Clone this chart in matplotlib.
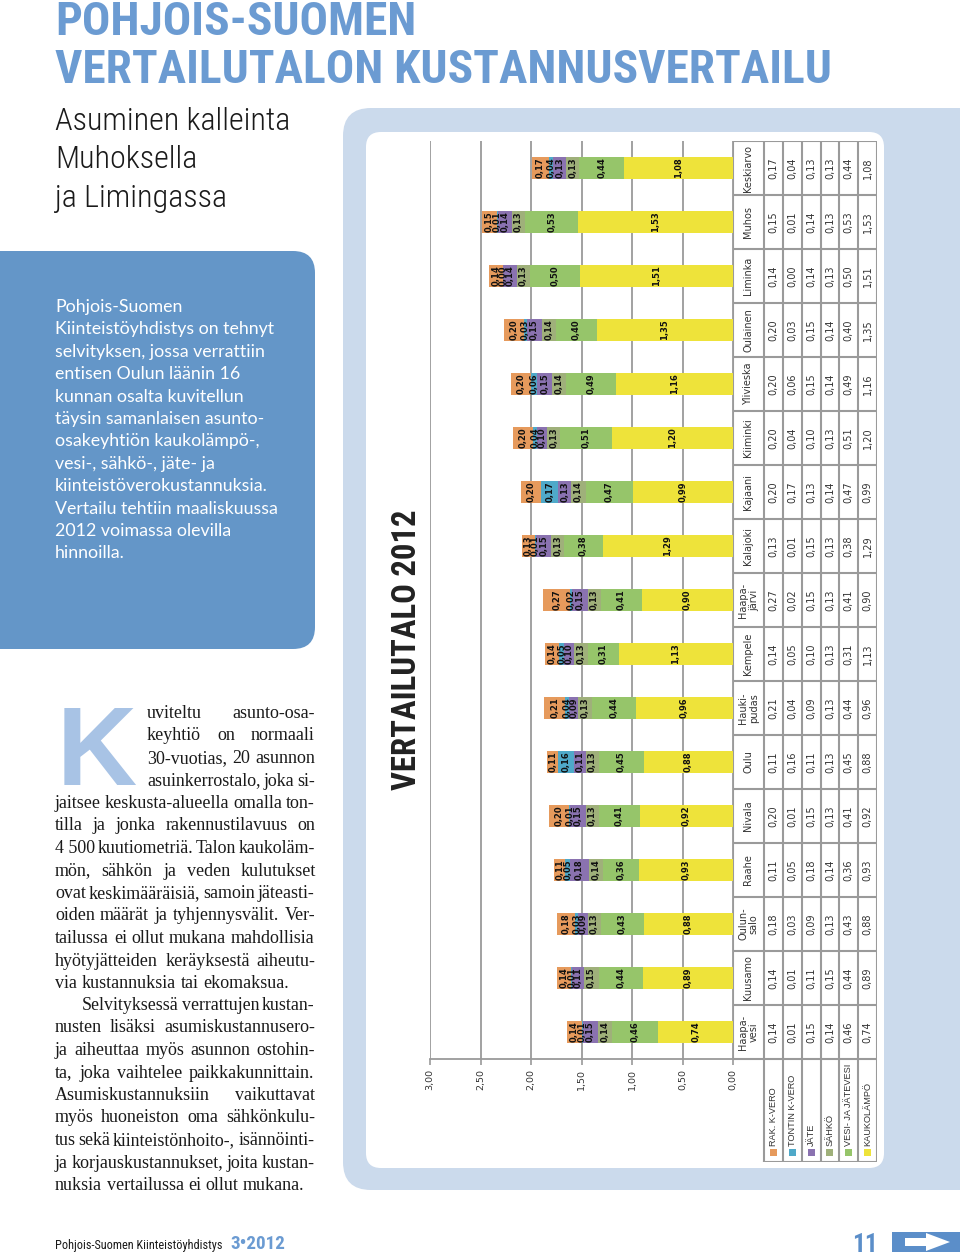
import numpy as np
import matplotlib
matplotlib.use("Agg")
import matplotlib.pyplot as plt
from matplotlib.patches import FancyBboxPatch, Rectangle, Polygon
from matplotlib.font_manager import FontProperties

# chart data, values per municipality
kunnat = ["Haapa-\nvesi", "Kuusamo", "Oulun-\nsalo", "Raahe", "Nivala", "Oulu",
          "Hauki-\npudas", "Kempele", "Haapa-\njärvi", "Kalajoki", "Kajaani",
          "Kiiminki", "Ylivieska", "Oulainen", "Liminka", "Muhos", "Keskiarvo"]
kaukolampo = [0.74, 0.89, 0.88, 0.93, 0.92, 0.88, 0.96, 1.13, 0.90, 1.29, 0.99, 1.20, 1.16, 1.35, 1.51, 1.53, 1.08]
vesi = [0.46, 0.44, 0.43, 0.36, 0.41, 0.45, 0.44, 0.31, 0.41, 0.38, 0.47, 0.51, 0.49, 0.40, 0.50, 0.53, 0.44]
sahko = [0.14, 0.15, 0.13, 0.14, 0.13, 0.13, 0.13, 0.13, 0.13, 0.13, 0.14, 0.13, 0.14, 0.14, 0.13, 0.13, 0.13]
jate = [0.15, 0.11, 0.09, 0.18, 0.15, 0.11, 0.09, 0.10, 0.15, 0.15, 0.13, 0.10, 0.15, 0.15, 0.14, 0.14, 0.13]
tontin_vero = [0.01, 0.01, 0.03, 0.05, 0.01, 0.16, 0.04, 0.05, 0.02, 0.01, 0.17, 0.04, 0.06, 0.03, 0.00, 0.01, 0.04]
rak_vero = [0.14, 0.14, 0.18, 0.11, 0.20, 0.11, 0.21, 0.14, 0.27, 0.13, 0.20, 0.20, 0.20, 0.20, 0.14, 0.15, 0.17]

sarjat = ["RAK. K-VERO", "TONTIN K-VERO", "JÄTE", "SÄHKÖ", "VESI- JA JÄTEVESI", "KAUKOLÄMPÖ"]
arvot = [rak_vero, tontin_vero, jate, sahko, vesi, kaukolampo]
varit = ["#e69a5c", "#4fa9c9", "#8a72b0", "#9fb07a", "#96c56a", "#eee33a"]
asteikko = [0.0, 0.5, 1.0, 1.5, 2.0, 2.5, 3.0]

otsikko = ["POHJOIS-SUOMEN", "VERTAILUTALON KUSTANNUSVERTAILU"]
alaotsikko = ["Asuminen kalleinta", "Muhoksella", "ja Limingassa"]
ingressi = ["Pohjois-Suomen", "Kiinteistöyhdistys on tehnyt", "selvityksen, jossa verrattiin",
            "entisen Oulun läänin 16", "kunnan osalta kuvitellun", "täysin samanlaisen asunto-",
            "osakeyhtiön kaukolämpö-,", "vesi-, sähkö-, jäte- ja", "kiinteistöverokustannuksia.",
            "Vertailu tehtiin maaliskuussa", "2012 voimassa olevilla", "hinnoilla."]
leipa1 = ["uviteltu asunto-osa-", "keyhtiö on normaali", "30-vuotias, 20 asunnon",
          "asuinkerrostalo, joka si-", "jaitsee keskusta-alueella omalla ton-",
          "tilla ja jonka rakennustilavuus on", "4\u00a0500 kuutiometriä. Talon kaukoläm-",
          "mön, sähkön ja veden kulutukset", "ovat keskimääräisiä, samoin jäteasti-",
          "oiden määrät ja tyhjennysvälit. Ver-", "tailussa ei ollut mukana mahdollisia",
          "hyötyjätteiden keräyksestä aiheutu-", "via kustannuksia tai ekomaksua."]
leipa2 = ["Selvityksessä verrattujen kustan-", "nusten lisäksi asumiskustannusero-",
          "ja aiheuttaa myös asunnon ostohin-", "ta, joka vaihtelee paikkakunnittain.",
          "Asumiskustannuksiin vaikuttavat", "myös huoneiston oma sähkönkulu-",
          "tus sekä kiinteistönhoito-, isännöinti-", "ja korjauskustannukset, joita kustan-",
          "nuksia vertailussa ei ollut mukana."]

sininen = "#6b9bd2"
kapea = ["Roboto Condensed", "Liberation Sans Narrow", "DejaVu Sans"]
fig = plt.figure(figsize=(9.6, 12.58), dpi=100)
r = fig.canvas.get_renderer()

# page axes in pixel coordinates
page = fig.add_axes([0, 0, 1, 1])
page.set_xlim(0, 960)
page.set_ylim(1258, 0)
page.axis("off")


def leveys(s, fp):
    w, h, d = r.get_text_width_height_descent(s, fp, ismath=False)
    return w


def sovita(s, family, weight, target):
    fp = FontProperties(family=family, weight=weight, size=10)
    return 10 * target / leveys(s, fp)


# background panels
page.add_patch(FancyBboxPatch((-40, 251), 355, 398, boxstyle="round,pad=0,rounding_size=22",
                              fc="#6496c8", ec="none"))
page.add_patch(FancyBboxPatch((343, 108), 700, 1082, boxstyle="round,pad=0,rounding_size=28",
                              fc="#cbdaec", ec="none"))
page.add_patch(FancyBboxPatch((366, 132), 518, 1036, boxstyle="round,pad=0,rounding_size=15",
                              fc="white", ec="none"))

# title
fs = sovita(otsikko[1], kapea, "bold", 773)
page.text(55, 35, otsikko[0], fontsize=fs, family=kapea, weight="bold",
          color=sininen, va="baseline")
page.text(55, 83, otsikko[1], fontsize=fs, family=kapea, weight="bold",
          color=sininen, va="baseline")

fs = sovita(alaotsikko[0], kapea, "light", 236)
for i, s in enumerate(alaotsikko):
    page.text(55, 130 + i * 38.5, s, fontsize=fs, family=kapea, weight="light",
              color="#1a1a1a", va="baseline")

fs = sovita(ingressi[9], "Lato", "normal", 223)
for i, s in enumerate(ingressi):
    page.text(55, 312 + i * 22.4, s, fontsize=fs, family="Lato",
              color="white", va="baseline")

# drop cap
page.text(57, 785, "K", fontsize=80, family="Liberation Sans", weight="bold",
          color="#a8c3e5", va="baseline")

# justified body text
fp10 = FontProperties(family="Liberation Serif", size=10)
vali10 = leveys("a a", fp10) - leveys("aa", fp10)
rivit = []
for i, s in enumerate(leipa1):
    rivit.append((s, 147 if i < 4 else 55, 718 + i * 22.5, i < len(leipa1) - 1))
for i, s in enumerate(leipa2):
    rivit.append((s, 82 if i == 0 else 55, 1010 + i * 22.5, i < len(leipa2) - 1))

suhteet = []
for s, x0, yy, tasaa in rivit:
    sanat = s.split(" ")
    luonn = sum(leveys(w, fp10) for w in sanat) + (len(sanat) - 1) * vali10
    if tasaa:
        suhteet.append((315 - x0) / luonn)
fs_body = 10 * np.percentile(suhteet, 35)

for s, x0, yy, tasaa in rivit:
    sanat = s.split(" ")
    ws10 = [leveys(w, fp10) for w in sanat]
    n = len(sanat) - 1
    koko = fs_body
    tarve = (sum(ws10) + n * 0.6 * vali10) * koko / 10
    if tasaa and tarve > 315 - x0:
        koko = koko * (315 - x0) / tarve
    fp = FontProperties(family="Liberation Serif", size=koko)
    ws = [w * koko / 10 for w in ws10]
    if tasaa and n > 0:
        vali = (315 - x0 - sum(ws)) / n
    else:
        vali = vali10 * koko / 10
    x = x0
    for w, wl in zip(sanat, ws):
        page.text(x, yy, w, fontproperties=fp, color="#1a1a1a", va="baseline")
        x += wl + vali

# footer
fs = sovita("Pohjois-Suomen Kiinteistöyhdistys", kapea, "normal", 167)
page.text(55, 1249, "Pohjois-Suomen Kiinteistöyhdistys", fontsize=fs,
          family=kapea, color="#1a1a1a", va="baseline")
fs = sovita("3•2012", kapea, "bold", 55)
page.text(230, 1249, "3•2012", fontsize=fs, family=kapea, weight="bold",
          color=sininen, va="baseline")
fs = sovita("11", kapea, "bold", 26)
page.text(852, 1252, "11", fontsize=fs, family=kapea, weight="bold",
          color="#5b8ec9", va="baseline")
page.add_patch(Rectangle((892, 1232), 80, 20, fc="#5b8ec9", ec="none"))
page.add_patch(Polygon([[905, 1238], [926, 1238], [926, 1233], [950, 1242], [926, 1251],
                        [926, 1246], [905, 1246]], closed=True, fc="white", ec="none"))

# rotated chart title
fs = sovita("VERTAILUTALO 2012", kapea, "bold", 280)
page.text(407, 650, "VERTAILUTALO 2012", fontsize=fs, family=kapea,
          weight="bold", rotation=90, ha="center", va="center", color="#222222")

# chart axes
W, H = 960, 1258
ax = fig.add_axes([430 / W, 1 - 1059 / H, 303 / W, 918 / H])
y = np.arange(len(kunnat))
pohja = np.zeros(len(kunnat))
for nimi, vals, c in reversed(list(zip(sarjat, arvot, varit))):
    vals = np.array(vals)
    ax.barh(y, vals, left=pohja, height=0.39, color=c, zorder=3)
    for yi, (b, v) in enumerate(zip(pohja, vals)):
        ax.text(b + v / 2, yi, f"{v:.2f}".replace(".", ","), rotation=90, ha="center",
                va="center", fontsize=6, weight="bold", color="#111111", zorder=4)
    pohja = pohja + vals
ax.set_xlim(3, 0)
ax.set_ylim(-0.5, len(kunnat) - 0.5)
ax.set_xticks(asteikko)
ax.set_xticklabels([f"{t:.2f}".replace(".", ",") for t in asteikko], rotation=90,
                   fontsize=6.8, color="#333333")
ax.tick_params(axis="x", length=4, color="#9a9a9a", width=1.2, pad=3)
ax.set_yticks([])
ax.grid(axis="x", color="#9a9a9a", linewidth=1.3, zorder=0)
for sp in ["top", "left", "right"]:
    ax.spines[sp].set_visible(False)
ax.spines["bottom"].set_color("#9a9a9a")
ax.spines["bottom"].set_linewidth(1.3)
ax.patch.set_alpha(0)

# data table next to the chart
leg_h = 103 / 54
tb = fig.add_axes([733 / W, 1 - 1162 / H, 144 / W, 1021 / H])
tb.set_xlim(0, 144)
tb.set_ylim(-0.5 - leg_h, len(kunnat) - 0.5)
tb.axis("off")
cw = (144 - 31) / 6
viiva = dict(color="#9a9a9a", linewidth=1.5)
ala = -0.5 - leg_h
top = len(kunnat) - 0.5
tb.plot([0, 0], [-0.5, top], **viiva)
tb.plot([31, 31], [ala, top], **viiva)
for j in range(1, 7):
    tb.plot([31 + cw * j] * 2, [ala, top], **viiva)
for i in range(len(kunnat) + 1):
    tb.plot([0, 144], [i - 0.5] * 2, **viiva)
tb.plot([31, 144], [ala, ala], **viiva)

for i, k in enumerate(kunnat):
    tb.text(15.5, i, k, rotation=90, ha="center", va="center", fontsize=7,
            color="#333333", linespacing=1.1)
    for j, vals in enumerate(arvot):
        tb.text(31 + cw * (j + 0.5), i, f"{vals[i]:.2f}".replace(".", ","), rotation=90,
                ha="center", va="center", fontsize=7, color="#333333")
for j, (nimi, c) in enumerate(zip(sarjat, varit)):
    xc = 31 + cw * (j + 0.5)
    tb.add_patch(Rectangle((xc - 3.5, -2.3), 7, 0.14, fc=c, ec="none"))
    tb.text(xc, -2.12, nimi, rotation=90, ha="center", va="bottom", fontsize=6.6,
            family="Liberation Sans", color="#333333")

fig.savefig("out.png", dpi=100)
